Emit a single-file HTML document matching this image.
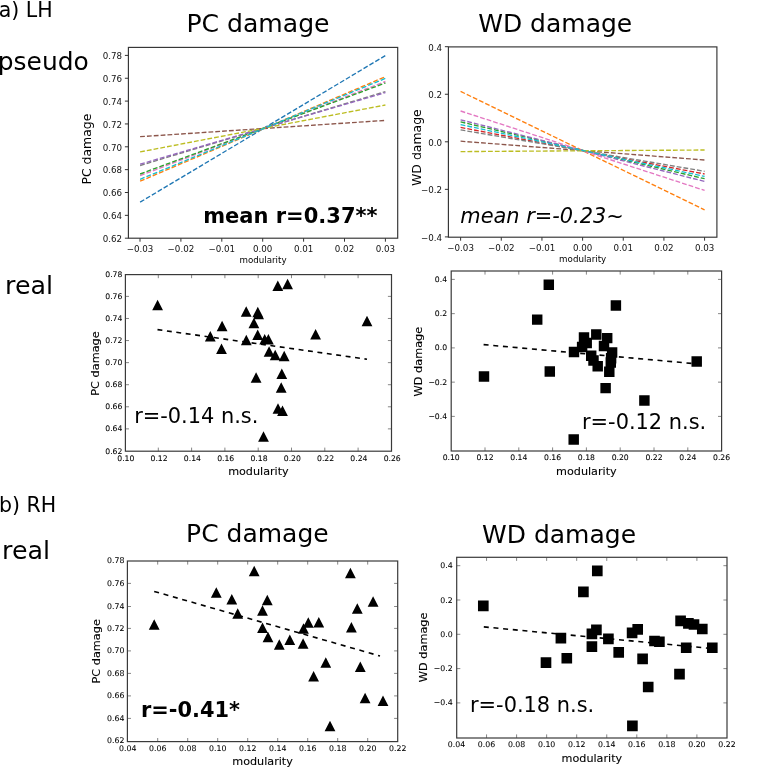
<!DOCTYPE html>
<html lang="en"><head><meta charset="utf-8"><title>Modularity vs damage</title>
<style>
html,body{margin:0;padding:0;background:#fff}
body{width:761px;height:770px;overflow:hidden}
svg{display:block;font-family:'DejaVu Sans','Liberation Sans',sans-serif}
</style></head><body>
<svg width="761" height="770" viewBox="0 0 761 770">
<rect width="761" height="770" fill="#fff"/>
<rect x="128.4" y="47.4" width="269.30" height="190.80" fill="none" stroke="#333" stroke-width="1.15"/>
<path d="M140.00 238.2v3.5M180.90 238.2v3.5M221.80 238.2v3.5M262.70 238.2v3.5M303.60 238.2v3.5M344.50 238.2v3.5M385.40 238.2v3.5M128.4 238.20h-3.5M128.4 215.35h-3.5M128.4 192.50h-3.5M128.4 169.65h-3.5M128.4 146.80h-3.5M128.4 123.95h-3.5M128.4 101.10h-3.5M128.4 78.25h-3.5M128.4 55.40h-3.5" stroke="#333" stroke-width="1" fill="none"/>
<g font-size="8.7" fill="#111">
<text x="140.00" y="251.60" text-anchor="middle">−0.03</text>
<text x="180.90" y="251.60" text-anchor="middle">−0.02</text>
<text x="221.80" y="251.60" text-anchor="middle">−0.01</text>
<text x="262.70" y="251.60" text-anchor="middle">0.00</text>
<text x="303.60" y="251.60" text-anchor="middle">0.01</text>
<text x="344.50" y="251.60" text-anchor="middle">0.02</text>
<text x="385.40" y="251.60" text-anchor="middle">0.03</text>
<text x="122.00" y="242.00" text-anchor="end">0.62</text>
<text x="122.00" y="219.15" text-anchor="end">0.64</text>
<text x="122.00" y="196.30" text-anchor="end">0.66</text>
<text x="122.00" y="173.45" text-anchor="end">0.68</text>
<text x="122.00" y="150.60" text-anchor="end">0.70</text>
<text x="122.00" y="127.75" text-anchor="end">0.72</text>
<text x="122.00" y="104.90" text-anchor="end">0.74</text>
<text x="122.00" y="82.05" text-anchor="end">0.76</text>
<text x="122.00" y="59.20" text-anchor="end">0.78</text>
</g>
<text x="263.05" y="263.20" font-size="8.7" text-anchor="middle">modularity</text>
<text x="91.10" y="149.10" font-size="12.45" text-anchor="middle" transform="rotate(-90 91.10 149.10)">PC damage</text>
<g stroke-width="1.35" stroke-dasharray="4.8 2.05" fill="none">
<path d="M140.1 202.2L385.4 55.6" stroke="#1f77b4"/>
<path d="M140.1 181.2L385.4 76.7" stroke="#ff7f0e"/>
<path d="M140.1 175.7L385.4 81.5" stroke="#e377c2"/>
<path d="M140.1 174.0L385.4 83.0" stroke="#2ca02c"/>
<path d="M140.1 165.5L385.4 91.6" stroke="#7f7f7f"/>
<path d="M140.1 164.2L385.4 92.6" stroke="#9467bd"/>
<path d="M140.1 136.7L385.4 120.4" stroke="#8c564b"/>
<path d="M140.1 151.9L385.4 105.0" stroke="#bcbd22"/>
<path d="M140.1 179.3L385.4 78.4" stroke="#17becf"/>
</g>
<text x="203.20" y="223.40" font-size="21.0" font-weight="bold">mean r=0.37**</text>
<rect x="448.4" y="46.9" width="268.50" height="190.30" fill="none" stroke="#333" stroke-width="1.15"/>
<path d="M460.62 237.2v3.5M501.28 237.2v3.5M541.94 237.2v3.5M582.60 237.2v3.5M623.26 237.2v3.5M663.92 237.2v3.5M704.58 237.2v3.5M448.4 236.90h-3.5M448.4 189.35h-3.5M448.4 141.80h-3.5M448.4 94.25h-3.5M448.4 46.70h-3.5" stroke="#333" stroke-width="1" fill="none"/>
<g font-size="8.7" fill="#111">
<text x="460.62" y="250.60" text-anchor="middle">−0.03</text>
<text x="501.28" y="250.60" text-anchor="middle">−0.02</text>
<text x="541.94" y="250.60" text-anchor="middle">−0.01</text>
<text x="582.60" y="250.60" text-anchor="middle">0.00</text>
<text x="623.26" y="250.60" text-anchor="middle">0.01</text>
<text x="663.92" y="250.60" text-anchor="middle">0.02</text>
<text x="704.58" y="250.60" text-anchor="middle">0.03</text>
<text x="442.00" y="240.70" text-anchor="end">−0.4</text>
<text x="442.00" y="193.15" text-anchor="end">−0.2</text>
<text x="442.00" y="145.60" text-anchor="end">0.0</text>
<text x="442.00" y="98.05" text-anchor="end">0.2</text>
<text x="442.00" y="50.50" text-anchor="end">0.4</text>
</g>
<text x="582.65" y="261.70" font-size="8.7" text-anchor="middle">modularity</text>
<text x="421.20" y="147.60" font-size="12.45" text-anchor="middle" transform="rotate(-90 421.20 147.60)">WD damage</text>
<g stroke-width="1.35" stroke-dasharray="4.8 2.05" fill="none">
<path d="M460.6 91.4L704.6 209.8" stroke="#ff7f0e"/>
<path d="M460.6 121.9L704.6 178.7" stroke="#2ca02c"/>
<path d="M460.6 127.4L704.6 174.0" stroke="#d62728"/>
<path d="M460.6 119.8L704.6 181.4" stroke="#9467bd"/>
<path d="M460.6 141.2L704.6 160.0" stroke="#8c564b"/>
<path d="M460.6 111.0L704.6 190.4" stroke="#e377c2"/>
<path d="M460.6 129.9L704.6 171.3" stroke="#7f7f7f"/>
<path d="M460.6 151.6L704.6 150.0" stroke="#bcbd22"/>
<path d="M460.6 124.6L704.6 176.4" stroke="#17becf"/>
</g>
<text x="460.30" y="222.50" font-size="20.9" font-style="italic">mean r=-0.23~</text>
<rect x="125.4" y="274.6" width="266.10" height="176.60" fill="none" stroke="#3a3a3a" stroke-width="1.2"/>
<path d="M158.30 451.2v-3.6M158.30 274.6v3.6M191.60 451.2v-3.6M191.60 274.6v3.6M224.90 451.2v-3.6M224.90 274.6v3.6M258.20 451.2v-3.6M258.20 274.6v3.6M291.50 451.2v-3.6M291.50 274.6v3.6M324.80 451.2v-3.6M324.80 274.6v3.6M358.10 451.2v-3.6M358.10 274.6v3.6M125.4 428.87h3.6M391.5 428.87h-3.6M125.4 406.79h3.6M391.5 406.79h-3.6M125.4 384.71h3.6M391.5 384.71h-3.6M125.4 362.63h3.6M391.5 362.63h-3.6M125.4 340.55h3.6M391.5 340.55h-3.6M125.4 318.47h3.6M391.5 318.47h-3.6M125.4 296.39h3.6M391.5 296.39h-3.6" stroke="#444" stroke-width="0.65" fill="none"/>
<g font-size="7.7" fill="#000" stroke="#000" stroke-width="0.08">
<text x="125.80" y="460.80" text-anchor="middle">0.10</text>
<text x="159.10" y="460.80" text-anchor="middle">0.12</text>
<text x="192.40" y="460.80" text-anchor="middle">0.14</text>
<text x="225.70" y="460.80" text-anchor="middle">0.16</text>
<text x="259.00" y="460.80" text-anchor="middle">0.18</text>
<text x="292.30" y="460.80" text-anchor="middle">0.20</text>
<text x="325.60" y="460.80" text-anchor="middle">0.22</text>
<text x="358.90" y="460.80" text-anchor="middle">0.24</text>
<text x="392.20" y="460.80" text-anchor="middle">0.26</text>
<text x="122.40" y="453.50" text-anchor="end">0.62</text>
<text x="122.40" y="431.42" text-anchor="end">0.64</text>
<text x="122.40" y="409.34" text-anchor="end">0.66</text>
<text x="122.40" y="387.26" text-anchor="end">0.68</text>
<text x="122.40" y="365.18" text-anchor="end">0.70</text>
<text x="122.40" y="343.10" text-anchor="end">0.72</text>
<text x="122.40" y="321.02" text-anchor="end">0.74</text>
<text x="122.40" y="298.94" text-anchor="end">0.76</text>
<text x="122.40" y="276.86" text-anchor="end">0.78</text>
</g>
<text x="258.45" y="474.70" font-size="11.2" text-anchor="middle" stroke="#000" stroke-width="0.1">modularity</text>
<text x="98.50" y="363.50" font-size="11.3" text-anchor="middle" transform="rotate(-90 98.50 363.50)" stroke="#000" stroke-width="0.1">PC damage</text>
<path d="M157.5 329.6L367 359.2" stroke="#000" stroke-width="1.6" stroke-dasharray="4.9 4.6" fill="none"/>
<path d="M157.6 299.75l5.4 10.5h-10.8zM246.2 306.35l5.4 10.5h-10.8zM257.8 306.85l5.4 10.5h-10.8zM258.6 308.75l5.4 10.5h-10.8zM222.1 320.65l5.4 10.5h-10.8zM210.3 331.05l5.4 10.5h-10.8zM221.5 343.55l5.4 10.5h-10.8zM253.9 317.75l5.4 10.5h-10.8zM246.3 334.85l5.4 10.5h-10.8zM257.7 329.55l5.4 10.5h-10.8zM264.7 333.95l5.4 10.5h-10.8zM268.4 333.95l5.4 10.5h-10.8zM277.8 280.45l5.4 10.5h-10.8zM287.6 278.75l5.4 10.5h-10.8zM269.1 346.25l5.4 10.5h-10.8zM275.2 349.65l5.4 10.5h-10.8zM284.2 350.65l5.4 10.5h-10.8zM256.1 372.25l5.4 10.5h-10.8zM281.8 368.45l5.4 10.5h-10.8zM281.2 382.35l5.4 10.5h-10.8zM278.0 403.35l5.4 10.5h-10.8zM282.5 405.55l5.4 10.5h-10.8zM263.5 431.15l5.4 10.5h-10.8zM315.6 329.05l5.4 10.5h-10.8zM367.0 315.65l5.4 10.5h-10.8z" fill="#000"/>
<text x="134.20" y="423.20" font-size="20.9">r=-0.14 n.s.</text>
<rect x="451.2" y="271.0" width="270.40" height="180.00" fill="none" stroke="#3a3a3a" stroke-width="1.2"/>
<path d="M485.00 451.0v-3.6M485.00 271.0v3.6M518.80 451.0v-3.6M518.80 271.0v3.6M552.60 451.0v-3.6M552.60 271.0v3.6M586.40 451.0v-3.6M586.40 271.0v3.6M620.20 451.0v-3.6M620.20 271.0v3.6M654.00 451.0v-3.6M654.00 271.0v3.6M687.80 451.0v-3.6M687.80 271.0v3.6M451.2 416.40h3.6M721.6 416.40h-3.6M451.2 382.15h3.6M721.6 382.15h-3.6M451.2 347.90h3.6M721.6 347.90h-3.6M451.2 313.65h3.6M721.6 313.65h-3.6M451.2 279.40h3.6M721.6 279.40h-3.6" stroke="#444" stroke-width="0.65" fill="none"/>
<g font-size="7.7" fill="#000" stroke="#000" stroke-width="0.08">
<text x="451.20" y="460.00" text-anchor="middle">0.10</text>
<text x="485.00" y="460.00" text-anchor="middle">0.12</text>
<text x="518.80" y="460.00" text-anchor="middle">0.14</text>
<text x="552.60" y="460.00" text-anchor="middle">0.16</text>
<text x="586.40" y="460.00" text-anchor="middle">0.18</text>
<text x="620.20" y="460.00" text-anchor="middle">0.20</text>
<text x="654.00" y="460.00" text-anchor="middle">0.22</text>
<text x="687.80" y="460.00" text-anchor="middle">0.24</text>
<text x="721.60" y="460.00" text-anchor="middle">0.26</text>
<text x="447.10" y="418.95" text-anchor="end">−0.4</text>
<text x="447.10" y="384.70" text-anchor="end">−0.2</text>
<text x="447.10" y="350.45" text-anchor="end">0.0</text>
<text x="447.10" y="316.20" text-anchor="end">0.2</text>
<text x="447.10" y="281.95" text-anchor="end">0.4</text>
</g>
<text x="586.40" y="475.00" font-size="11.2" text-anchor="middle" stroke="#000" stroke-width="0.1">modularity</text>
<text x="421.70" y="361.60" font-size="11.3" text-anchor="middle" transform="rotate(-90 421.70 361.60)" stroke="#000" stroke-width="0.1">WD damage</text>
<path d="M483.6 344.6L697 363.9" stroke="#000" stroke-width="1.6" stroke-dasharray="5.0 4.7" fill="none"/>
<path d="M478.77 371.18h10.45v10.45h-10.45zM543.57 279.48h10.45v10.45h-10.45zM531.98 314.38h10.45v10.45h-10.45zM544.57 366.27h10.45v10.45h-10.45zM610.67 300.18h10.45v10.45h-10.45zM591.07 329.18h10.45v10.45h-10.45zM578.77 332.27h10.45v10.45h-10.45zM601.98 332.88h10.45v10.45h-10.45zM581.48 337.77h10.45v10.45h-10.45zM576.88 341.68h10.45v10.45h-10.45zM598.77 340.77h10.45v10.45h-10.45zM568.77 346.77h10.45v10.45h-10.45zM606.88 347.27h10.45v10.45h-10.45zM585.98 350.48h10.45v10.45h-10.45zM605.88 353.07h10.45v10.45h-10.45zM588.27 355.18h10.45v10.45h-10.45zM605.57 357.27h10.45v10.45h-10.45zM592.48 360.98h10.45v10.45h-10.45zM604.07 366.57h10.45v10.45h-10.45zM691.48 356.18h10.45v10.45h-10.45zM600.38 382.88h10.45v10.45h-10.45zM639.17 395.18h10.45v10.45h-10.45zM568.48 434.18h10.45v10.45h-10.45z" fill="#000"/>
<text x="582.00" y="428.70" font-size="20.9">r=-0.12 n.s.</text>
<rect x="127.4" y="561.0" width="270.30" height="180.60" fill="none" stroke="#3a3a3a" stroke-width="1.2"/>
<path d="M157.70 741.6v-3.6M157.70 561.0v3.6M187.70 741.6v-3.6M187.70 561.0v3.6M217.70 741.6v-3.6M217.70 561.0v3.6M247.70 741.6v-3.6M247.70 561.0v3.6M277.70 741.6v-3.6M277.70 561.0v3.6M307.70 741.6v-3.6M307.70 561.0v3.6M337.70 741.6v-3.6M337.70 561.0v3.6M367.70 741.6v-3.6M367.70 561.0v3.6M127.4 718.40h3.6M397.7 718.40h-3.6M127.4 695.90h3.6M397.7 695.90h-3.6M127.4 673.40h3.6M397.7 673.40h-3.6M127.4 650.90h3.6M397.7 650.90h-3.6M127.4 628.40h3.6M397.7 628.40h-3.6M127.4 606.50h3.6M397.7 606.50h-3.6M127.4 583.40h3.6M397.7 583.40h-3.6" stroke="#444" stroke-width="0.65" fill="none"/>
<g font-size="7.8" fill="#000" stroke="#000" stroke-width="0.08">
<text x="127.70" y="750.90" text-anchor="middle">0.04</text>
<text x="157.70" y="750.90" text-anchor="middle">0.06</text>
<text x="187.70" y="750.90" text-anchor="middle">0.08</text>
<text x="217.70" y="750.90" text-anchor="middle">0.10</text>
<text x="247.70" y="750.90" text-anchor="middle">0.12</text>
<text x="277.70" y="750.90" text-anchor="middle">0.14</text>
<text x="307.70" y="750.90" text-anchor="middle">0.16</text>
<text x="337.70" y="750.90" text-anchor="middle">0.18</text>
<text x="367.70" y="750.90" text-anchor="middle">0.20</text>
<text x="397.70" y="750.90" text-anchor="middle">0.22</text>
<text x="124.40" y="743.45" text-anchor="end">0.62</text>
<text x="124.40" y="720.95" text-anchor="end">0.64</text>
<text x="124.40" y="698.45" text-anchor="end">0.66</text>
<text x="124.40" y="675.95" text-anchor="end">0.68</text>
<text x="124.40" y="653.45" text-anchor="end">0.70</text>
<text x="124.40" y="630.95" text-anchor="end">0.72</text>
<text x="124.40" y="609.05" text-anchor="end">0.74</text>
<text x="124.40" y="585.95" text-anchor="end">0.76</text>
<text x="124.40" y="563.45" text-anchor="end">0.78</text>
</g>
<text x="262.55" y="765.00" font-size="11.2" text-anchor="middle" stroke="#000" stroke-width="0.1">modularity</text>
<text x="99.60" y="651.30" font-size="11.3" text-anchor="middle" transform="rotate(-90 99.60 651.30)" stroke="#000" stroke-width="0.1">PC damage</text>
<path d="M154.2 591.4L380 656" stroke="#000" stroke-width="1.6" stroke-dasharray="5.0 4.7" fill="none"/>
<path d="M154.2 619.15l5.4 10.5h-10.8zM216.3 587.15l5.4 10.5h-10.8zM231.8 594.05l5.4 10.5h-10.8zM237.7 608.35l5.4 10.5h-10.8zM254.2 565.85l5.4 10.5h-10.8zM350.4 567.75l5.4 10.5h-10.8zM267.3 594.65l5.4 10.5h-10.8zM262.5 605.35l5.4 10.5h-10.8zM373.1 596.35l5.4 10.5h-10.8zM357.3 603.15l5.4 10.5h-10.8zM262.5 622.45l5.4 10.5h-10.8zM268.0 631.85l5.4 10.5h-10.8zM279.3 639.25l5.4 10.5h-10.8zM289.8 634.55l5.4 10.5h-10.8zM303.1 638.15l5.4 10.5h-10.8zM303.5 623.15l5.4 10.5h-10.8zM308.3 617.35l5.4 10.5h-10.8zM318.8 616.95l5.4 10.5h-10.8zM351.4 621.95l5.4 10.5h-10.8zM325.8 657.35l5.4 10.5h-10.8zM313.6 670.95l5.4 10.5h-10.8zM360.3 661.55l5.4 10.5h-10.8zM365.1 692.65l5.4 10.5h-10.8zM383.0 695.55l5.4 10.5h-10.8zM330.0 720.65l5.4 10.5h-10.8z" fill="#000"/>
<text x="141.00" y="717.20" font-size="20.9" font-weight="bold">r=-0.41*</text>
<rect x="456.7" y="557.3" width="270.30" height="180.70" fill="none" stroke="#3a3a3a" stroke-width="1.2"/>
<path d="M486.55 738.0v-3.6M486.55 557.3v3.6M516.60 738.0v-3.6M516.60 557.3v3.6M546.65 738.0v-3.6M546.65 557.3v3.6M576.70 738.0v-3.6M576.70 557.3v3.6M606.75 738.0v-3.6M606.75 557.3v3.6M636.80 738.0v-3.6M636.80 557.3v3.6M666.85 738.0v-3.6M666.85 557.3v3.6M696.90 738.0v-3.6M696.90 557.3v3.6M456.7 702.90h3.6M727.0 702.90h-3.6M456.7 668.60h3.6M727.0 668.60h-3.6M456.7 634.30h3.6M727.0 634.30h-3.6M456.7 600.00h3.6M727.0 600.00h-3.6M456.7 565.70h3.6M727.0 565.70h-3.6" stroke="#444" stroke-width="0.65" fill="none"/>
<g font-size="7.8" fill="#000" stroke="#000" stroke-width="0.08">
<text x="456.50" y="747.20" text-anchor="middle">0.04</text>
<text x="486.55" y="747.20" text-anchor="middle">0.06</text>
<text x="516.60" y="747.20" text-anchor="middle">0.08</text>
<text x="546.65" y="747.20" text-anchor="middle">0.10</text>
<text x="576.70" y="747.20" text-anchor="middle">0.12</text>
<text x="606.75" y="747.20" text-anchor="middle">0.14</text>
<text x="636.80" y="747.20" text-anchor="middle">0.16</text>
<text x="666.85" y="747.20" text-anchor="middle">0.18</text>
<text x="696.90" y="747.20" text-anchor="middle">0.20</text>
<text x="726.95" y="747.20" text-anchor="middle">0.22</text>
<text x="452.70" y="705.45" text-anchor="end">−0.4</text>
<text x="452.70" y="671.15" text-anchor="end">−0.2</text>
<text x="452.70" y="636.85" text-anchor="end">0.0</text>
<text x="452.70" y="602.55" text-anchor="end">0.2</text>
<text x="452.70" y="568.25" text-anchor="end">0.4</text>
</g>
<text x="591.85" y="762.30" font-size="11.2" text-anchor="middle" stroke="#000" stroke-width="0.1">modularity</text>
<text x="427.00" y="647.35" font-size="11.3" text-anchor="middle" transform="rotate(-90 427.00 647.35)" stroke="#000" stroke-width="0.1">WD damage</text>
<path d="M483.8 626.9L712.3 648.6" stroke="#000" stroke-width="1.6" stroke-dasharray="5.0 4.7" fill="none"/>
<path d="M477.98 600.57h10.65v10.65h-10.65zM578.07 586.57h10.65v10.65h-10.65zM555.57 632.77h10.65v10.65h-10.65zM540.67 657.27h10.65v10.65h-10.65zM561.47 652.88h10.65v10.65h-10.65zM591.97 565.57h10.65v10.65h-10.65zM591.07 624.57h10.65v10.65h-10.65zM586.57 628.57h10.65v10.65h-10.65zM603.07 633.48h10.65v10.65h-10.65zM586.57 641.27h10.65v10.65h-10.65zM613.38 647.07h10.65v10.65h-10.65zM626.77 627.48h10.65v10.65h-10.65zM632.38 624.07h10.65v10.65h-10.65zM637.27 653.57h10.65v10.65h-10.65zM649.17 635.67h10.65v10.65h-10.65zM654.07 636.38h10.65v10.65h-10.65zM675.27 615.57h10.65v10.65h-10.65zM683.07 618.07h10.65v10.65h-10.65zM688.67 619.17h10.65v10.65h-10.65zM696.97 623.67h10.65v10.65h-10.65zM680.88 642.38h10.65v10.65h-10.65zM706.97 642.38h10.65v10.65h-10.65zM674.17 668.77h10.65v10.65h-10.65zM642.88 681.67h10.65v10.65h-10.65zM627.07 720.48h10.65v10.65h-10.65z" fill="#000"/>
<text x="470.00" y="711.60" font-size="20.9">r=-0.18 n.s.</text>
<text x="-1.30" y="17.10" font-size="20.5">a) LH</text>
<text x="-2.20" y="69.60" font-size="24.9">pseudo</text>
<text x="5.10" y="293.80" font-size="25.3">real</text>
<text x="-1.10" y="512.20" font-size="20.5">b) RH</text>
<text x="2.10" y="558.70" font-size="25.3">real</text>
<text x="258.00" y="31.90" font-size="25.1" text-anchor="middle">PC damage</text>
<text x="555.20" y="32.10" font-size="25.0" text-anchor="middle">WD damage</text>
<text x="257.40" y="542.00" font-size="25.0" text-anchor="middle">PC damage</text>
<text x="559.00" y="542.80" font-size="25.0" text-anchor="middle">WD damage</text>
</svg>
</body></html>
